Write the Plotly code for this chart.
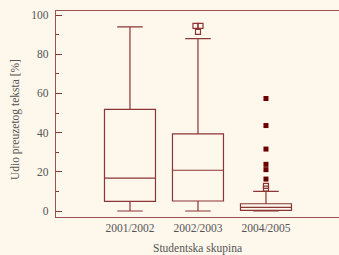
import plotly.graph_objects as go

categories = ["2001/2002", "2002/2003", "2004/2005"]
lower_whisker = [0.0, 0.0, 0.0]
q1 = [4.9, 5.1, 0.3]
median = [16.8, 20.8, 1.9]
q3 = [51.9, 39.3, 3.7]
upper_whisker = [93.9, 87.9, 10.0]

# mild outliers (hollow squares): category index, value
mild_cat = [1, 1, 1, 2, 2]
mild_val = [94.5, 94.5, 91.4, 12.8, 11.4]
mild_dodge = [-0.037, 0.037, 0.0, 0.0, 0.0]
# extreme outliers (filled squares)
ext_cat = [2, 2, 2, 2, 2, 2]
ext_val = [57.4, 43.6, 31.6, 23.8, 21.1, 16.3]

y_ticks = [0, 20, 40, 60, 80, 100]

line_col = "#8b3535"
axis_col = "#9e4f4f"
text_col = "#555555"
bg = "#fdf7ec"
font = "Liberation Serif"

fig = go.Figure()
fig.add_trace(go.Box(
    x=list(range(len(categories))),
    q1=q1, median=median, q3=q3,
    lowerfence=lower_whisker, upperfence=upper_whisker,
    width=0.75, whiskerwidth=0.5,
    fillcolor="rgba(0,0,0,0)",
    line=dict(color=line_col, width=1.2),
    boxpoints=False, showlegend=False, hoverinfo="skip",
))
fig.add_trace(go.Scatter(
    x=[c + d for c, d in zip(mild_cat, mild_dodge)], y=mild_val, mode="markers",
    marker=dict(symbol="square-open", size=5, color=line_col, line=dict(width=1.2, color=line_col)),
    showlegend=False, hoverinfo="skip",
))
fig.add_trace(go.Scatter(
    x=ext_cat, y=ext_val, mode="markers",
    marker=dict(symbol="square", size=5, color="#6b0000", line=dict(width=0)),
    showlegend=False, hoverinfo="skip",
))

fig.update_layout(
    width=339, height=255, autosize=False,
    margin=dict(l=56, r=0, t=11, b=38),
    paper_bgcolor=bg, plot_bgcolor=bg,
    font=dict(family=font, size=12, color=text_col),
    xaxis=dict(
        range=[-1.088, 3.074], tickmode="array",
        tickvals=list(range(len(categories))), ticktext=categories,
        showgrid=False, zeroline=False, ticks="", automargin=False,
        showline=True, linecolor=axis_col, linewidth=1.3, mirror=True,
        tickfont=dict(size=11.5, family=font, color=text_col),
    ),
    yaxis=dict(
        range=[-3.06, 102.04], tickmode="array", tickvals=y_ticks,
        showgrid=False, zeroline=False, automargin=False,
        ticks="inside", ticklen=6, tickcolor=line_col, tickwidth=1,
        minor=dict(dtick=10, tick0=10, ticks="inside", ticklen=3, tickcolor=line_col, tickwidth=1),
        showline=True, linecolor=axis_col, linewidth=1.3,
        tickfont=dict(size=11.5, family=font, color=text_col),
        ticklabelstandoff=4,
    ),
    annotations=[
        dict(text="Studentska skupina", xref="paper", yref="paper", x=0.5, y=-0.155,
             xanchor="center", yanchor="middle", showarrow=False,
             font=dict(size=11.5, family=font, color=text_col)),
        dict(text="Udio preuzetog teksta [%]", xref="paper", yref="paper", x=-0.145, y=0.475,
             xanchor="center", yanchor="middle", showarrow=False, textangle=-90,
             font=dict(size=11.5, family=font, color=text_col)),
    ],
)

fig.write_html("out.html", config={"displayModeBar": False},
               post_script="document.body.style.margin='0';document.body.style.background='%s';" % bg)
